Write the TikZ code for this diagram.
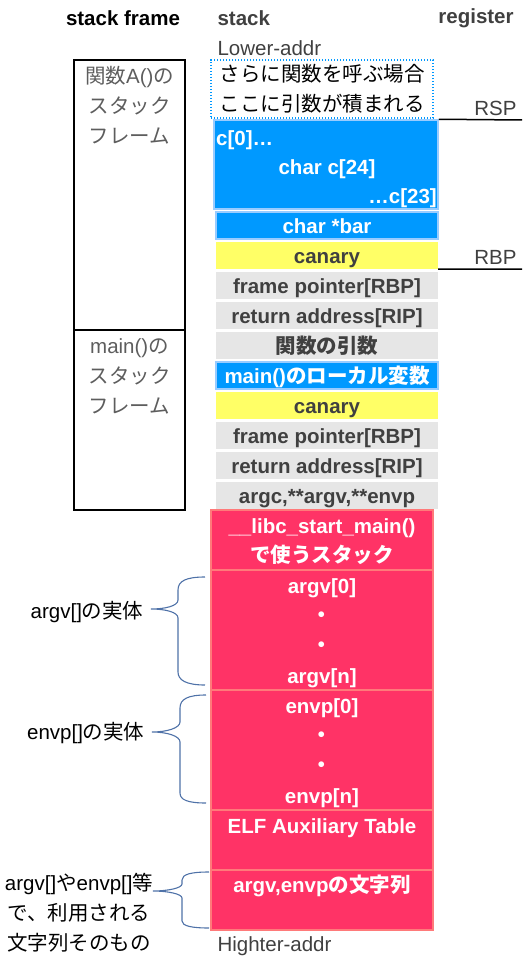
\documentclass[tikz,border=0pt]{standalone}
\usepackage{fontspec}
\setmainfont{Liberation Sans}
\newfontfamily\jpfont{Noto Sans CJK JP}
\newcommand{\J}[1]{{\jpfont #1}}
\newcommand{\txtsize}{\fontsize{20.5}{30}\selectfont}

\definecolor{cellblue}{HTML}{0099FF}
\definecolor{edgeblue}{HTML}{99CCFF}
\definecolor{cellyellow}{HTML}{FFFF66}
\definecolor{cellgray}{HTML}{E6E6E6}
\definecolor{cellred}{HTML}{FF3366}
\definecolor{edgered}{HTML}{FF7A7A}
\definecolor{txtgray}{HTML}{404040}
\definecolor{bracecol}{HTML}{4F72A8}

\tikzset{
  cell/.style={minimum width=222pt, minimum height=27pt, inner sep=0pt,
    text height=20pt, text depth=4pt, font=\bfseries\txtsize, text=txtgray},
  graycell/.style={cell, fill=cellgray},
  yellowcell/.style={cell, fill=cellyellow},
  bluecell/.style={cell, fill=cellblue, draw=edgeblue, line width=1.5pt, text=white},
  celltxt/.style={cell, minimum width=0pt, text=white},
  redcell/.style={minimum width=222pt, inner sep=0pt,
    fill=cellred, draw=edgered, line width=2pt},
  framebox/.style={draw, line width=1.6pt, minimum width=111pt, inner sep=0pt},
  frametxt/.style={font=\txtsize, text=txtgray!85, align=center},
  plain/.style={font=\txtsize, text=txtgray},
  head/.style={font=\bfseries\txtsize, text=txtgray},
  brace/.style={draw=bracecol, line width=1.1pt},
  regline/.style={line width=1.5pt}
}

\begin{document}
\begin{tikzpicture}[x=1pt,y=-1pt]
  \useasboundingbox (0,0) rectangle (529,963);

  % headings
  \node[head, text=black] (hframe) at (123,18) {stack frame};
  \node[head, anchor=west] (hstack) at (214,18) {stack};
  \node[head] (hreg) at (476,18) {register};
  \node[plain, anchor=west] (lower) at (214,48) {Lower-addr};
  \node[plain, anchor=west] (higher) at (214,946) {Highter-addr};

  % stack frames on the left
  \node[framebox, minimum height=270pt] (frameA) at (129.5,195) {};
  \node[framebox, minimum height=180pt] (framemain) at (129.5,420) {};
  \node[frametxt] (frameAtxt) at (129.5,105) {\J{関数}A()\J{の}\\\J{スタック}\\\J{フレーム}};
  \node[frametxt] (framemaintxt) at (129.5,376) {main()\J{の}\\\J{スタック}\\\J{フレーム}};

  % stack
  \node[draw=cellblue, dash pattern=on 1.3pt off 1.7pt, line width=1.3pt,
    minimum width=222pt, minimum height=58pt, inner sep=0pt,
    font=\txtsize\jpfont, align=center] (nextargs) at (322,89)
    {さらに関数を呼ぶ場合\\ここに引数が積まれる};
  \node[bluecell, minimum width=224pt, minimum height=89pt] (cvar) at (326,164.5) {};
  \node[celltxt, anchor=west] (c0) at (216,138) {c[0]…};
  \node[celltxt] (c24) at (327,166) {char c[24]};
  \node[celltxt, anchor=east] (c23) at (437,195) {…c[23]};
  \node[bluecell] (bar) at (327,225.5) {char *bar};
  \node[yellowcell] (canaryA) at (327,255.5) {canary};
  \node[graycell] (fpA) at (327,285.5) {frame pointer[RBP]};
  \node[graycell] (retA) at (327,315.5) {return address[RIP]};
  \node[graycell] (args) at (327,345.5) {\J{関数の引数}};
  \node[bluecell] (mainlocal) at (327,375.5) {main()\J{のローカル変数}};
  \node[yellowcell] (canarymain) at (327,405.5) {canary};
  \node[graycell] (fpmain) at (327,435.5) {frame pointer[RBP]};
  \node[graycell] (retmain) at (327,465.5) {return address[RIP]};
  \node[graycell] (argc) at (327,495.5) {argc,**argv,**envp};

  \node[redcell, minimum height=60pt] (libc) at (322,540) {};
  \node[redcell, minimum height=120pt] (argvbox) at (322,630) {};
  \node[redcell, minimum height=120pt] (envpbox) at (322,750) {};
  \node[redcell, minimum height=60pt] (elf) at (322,840) {};
  \node[redcell, minimum height=60pt] (strs) at (322,900) {};
  \node[celltxt] (libctxt) at (322,525.5) {\_\_libc\_start\_main()};
  \node[celltxt] (libctxtb) at (322,554.5) {\J{で使うスタック}};
  \node[celltxt] (argv0) at (322,585.5) {argv[0]};
  \node[celltxt] (argvdota) at (322,614.5) {\J{・}};
  \node[celltxt] (argvdotb) at (322,644.5) {\J{・}};
  \node[celltxt] (argvn) at (322,675.5) {argv[n]};
  \node[celltxt] (envp0) at (322,705.5) {envp[0]};
  \node[celltxt] (envpdota) at (322,734.5) {\J{・}};
  \node[celltxt] (envpdotb) at (322,764.5) {\J{・}};
  \node[celltxt] (envpn) at (322,795.5) {envp[n]};
  \node[celltxt] (elftxt) at (322,825.5) {ELF Auxiliary Table};
  \node[celltxt] (strstxt) at (322,884.5) {argv,envp\J{の文字列}};

  % registers
  \node[plain, anchor=east] (rsp) at (520,108) {RSP};
  \node[plain, anchor=east] (rbp) at (520,257) {RBP};
  \coordinate (rspend) at (522,120);
  \coordinate (rbpend) at (522,269);
  \draw[regline] (cvar.north east) -- (rspend);
  \draw[regline] (canaryA.south east) -- (rbpend);

  % braces and their labels
  \node[plain, text=black, anchor=east] (argvlbl) at (147,612) {argv[]\J{の実体}};
  \node[plain, text=black, anchor=east] (envplbl) at (148,733) {envp[]\J{の実体}};
  \node[plain, text=black, align=center] (strlbl) at (79,913)
    {argv[]\J{や}envp[]\J{等}\\\J{で、利用される}\\\J{文字列そのもの}};
  \draw[brace] (205,577) .. controls (186,577) and (178,581) .. (178,590)
    -- (178,600) .. controls (178,606) and (165,609) .. (151,609)
    .. controls (165,609) and (178,612) .. (178,618)
    -- (178,672) .. controls (178,680) and (186,685) .. (205,685);
  \draw[brace] (206,695) .. controls (188,695) and (180,699) .. (180,708)
    -- (180,722) .. controls (180,728) and (167,732) .. (152,732)
    .. controls (167,732) and (180,736) .. (180,742)
    -- (180,793) .. controls (180,800) and (188,803) .. (206,803);
  \draw[brace] (209,872) .. controls (192,872) and (182,874) .. (182,880)
    -- (182,884) .. controls (182,888) and (168,891) .. (153,891)
    .. controls (168,891) and (182,894) .. (182,898)
    -- (182,921) .. controls (182,926) and (192,928) .. (209,928);
\end{tikzpicture}
\end{document}
